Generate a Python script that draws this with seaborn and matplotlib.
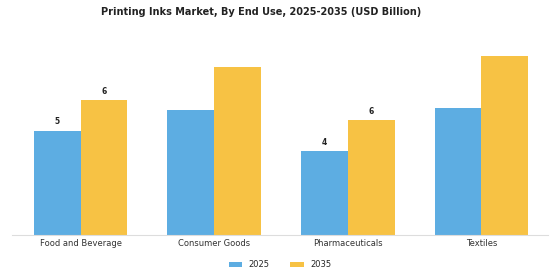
import pandas as pd
import matplotlib
matplotlib.use('Agg')
import matplotlib.pyplot as plt
import seaborn as sns

# Data (USD Billion)
categories = ['Food and Beverage', 'Consumer Goods', 'Pharmaceuticals', 'Textiles']
years = ['2025', '2035']
values_2025 = [5.0, 6.0, 4.0, 6.1]
values_2035 = [6.45, 8.05, 5.5, 8.6]
labelled = ['Food and Beverage', 'Pharmaceuticals']

df = pd.DataFrame({
    'End Use': categories * 2,
    'Year': [years[0]] * len(categories) + [years[1]] * len(categories),
    'Value': values_2025 + values_2035,
})

sns.set_style('white')
plt.rcParams['font.family'] = ['DejaVu Sans']

fig = plt.figure(figsize=(5.6, 2.8), dpi=100)
ax = fig.add_axes([0.021, 0.161, 0.958, 0.678])

palette = {'2025': '#5DADE2', '2035': '#F7C244'}
sns.barplot(data=df, x='End Use', y='Value', hue='Year', palette=palette,
            width=0.7, saturation=1, linewidth=0, ax=ax, legend=True)

# value labels only on some groups, as in the reference
for container, year in zip(ax.containers, years):
    for bar, cat in zip(container, categories):
        if cat in labelled:
            ax.annotate(f'{bar.get_height():.0f}',
                        (bar.get_x() + bar.get_width() / 2, bar.get_height()),
                        xytext=(0, 3), textcoords='offset points',
                        ha='center', va='bottom', fontsize=5.5,
                        fontweight='bold', color='#222222')

ax.set_xlim(-0.515, 3.5)
ax.set_ylim(0, 9.1)
ax.set_xlabel('')
ax.set_ylabel('')
ax.set_yticks([])
ax.tick_params(axis='x', labelsize=6, colors='#333333', length=0, pad=3)
for side in ['top', 'right', 'left']:
    ax.spines[side].set_visible(False)
ax.spines['bottom'].set_color('#dddddd')
ax.spines['bottom'].set_linewidth(0.8)

ax.legend(loc='upper center', bbox_to_anchor=(0.5, -0.095), ncol=2,
          frameon=False, fontsize=6, handlelength=1.6, handleheight=0.5,
          columnspacing=2.5)

fig.suptitle('Printing Inks Market, By End Use, 2025-2035 (USD Billion)',
             x=0.466, y=0.975, fontsize=7, fontweight='bold', color='#222222')

fig.savefig('out.png', dpi=100)
